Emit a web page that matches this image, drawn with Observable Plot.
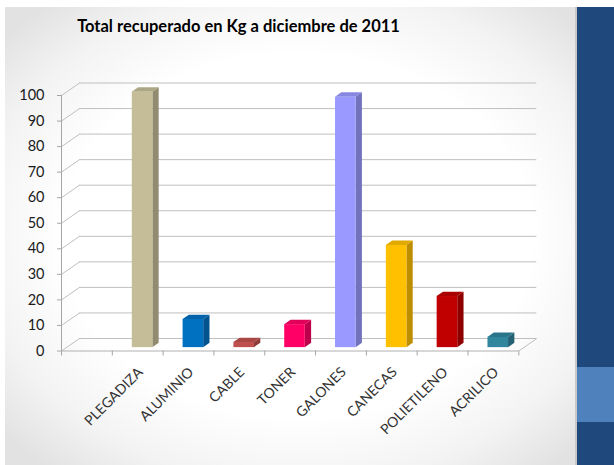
<!DOCTYPE html>
<html>
<head>
<meta charset="utf-8">
<script src="https://cdn.jsdelivr.net/npm/d3@7"></script>
<script src="https://cdn.jsdelivr.net/npm/@observablehq/plot@0.6"></script>
<style>
  body { margin: 0; background: #ffffff; }
  #wrap { position: relative; width: 614px; height: 465px; overflow: hidden; background: #ffffff; }
  #slide { position: absolute; left: 5px; top: 7px; right: 0; bottom: 0;
    background: radial-gradient(ellipse 64% 66% at 48% 50%, #ffffff 60%, #f3f3f3 82%, #e2e2e2 100%); }
  #band { position: absolute; left: 577px; top: 7px; width: 37px; bottom: 0; background: #1F497D; }
  #band2 { position: absolute; left: 577px; top: 367px; width: 37px; height: 55px; background: #4F81BD; }
  #bandEdge { position: absolute; left: 575px; top: 7px; width: 2px; bottom: 0; background: #c8c8c8; }
  #title { position: absolute; left: 0; width: 477px; top: 16px; text-align: center;
    font-family: Lato, "Open Sans", sans-serif; font-weight: bold; font-size: 16.5px; color: #000; }
  #chart { position: absolute; left: 0; top: 0; }
</style>
</head>
<body>
<div id="wrap">
  <div id="slide"></div>
  <div id="bandEdge"></div>
  <div id="band"></div>
  <div id="band2"></div>
  <div id="chart"></div>
  <div id="title">Total recuperado en Kg a diciembre de 2011</div>
</div>
<script>
// ---- data ----
const categories = ["", "PLEGADIZA", "ALUMINIO", "CABLE", "TONER", "GALONES", "CANECAS", "POLIETILENO", "ACRILICO"];
const values = [null, 100, 11, 2, 9, 98, 40, 20, 4];
const colors = [null, "#C4BD97", "#0070C0", "#C0504D", "#FF0066", "#9999FF", "#FFC000", "#C00000", "#31859C"];
const yTicks = [0, 10, 20, 30, 40, 50, 60, 70, 80, 90, 100];

// ---- geometry (styling constants) ----
const W = 614, H = 465;
const mL = 61, mR = 95.7, mT = 95, mB = 114.5;
const nBands = categories.length;
const pxX = (W - mL - mR) / nBands;     // px per x unit
const pxY = (H - mT - mB) / 100;        // px per y unit
const DX = 18 / pxX, DY = 12.5 / pxY;   // floor depth in data units
const f0 = 0.27, f1 = 0.62;             // bar depth position
const bw = 0.405;                        // bar width in band units

const bars = categories.map((c, i) => ({c, i, v: values[i], color: colors[i]})).filter(d => d.v != null);
bars.forEach(d => {
  d.xL = d.i + 0.5 - bw / 2 + f0 * DX;
  d.xR = d.xL + bw;
  d.side = d3.color(d.color).darker(0.85).formatHex();
  d.top = d3.color(d.color).darker(0.35).formatHex();
});
const dd = (f1 - f0) * DX;
const sidePts = bars.flatMap(d => [
  {c: d.c, fill: d.side, x: d.xR, y1: f0 * DY, y2: d.v + f0 * DY},
  {c: d.c, fill: d.side, x: d.xR + dd, y1: f1 * DY, y2: d.v + f1 * DY}
]);
const topPts = bars.flatMap(d => [
  {c: d.c, fill: d.top, y: d.v + f0 * DY, x1: d.xL, x2: d.xR},
  {c: d.c, fill: d.top, y: d.v + f1 * DY, x1: d.xL + dd, x2: d.xR + dd}
]);
const catIdx = d3.range(nBands + 1);
const grid = "#bfbfbf";

const chart = Plot.plot({
  width: W, height: H,
  marginLeft: mL, marginRight: mR, marginTop: mT, marginBottom: mB,
  x: {domain: [0, nBands], axis: null},
  y: {domain: [0, 100], axis: null},
  color: {type: "identity"},
  style: {background: "transparent", fontFamily: "Lato, 'Open Sans', sans-serif", overflow: "visible"},
  marks: [
    // back wall gridlines
    Plot.ruleY(yTicks, {y: d => d + DY, x1: DX, x2: nBands + DX, stroke: grid, strokeWidth: 1}),
    // left wall diagonals
    Plot.link(yTicks, {x1: 0, y1: d => d, x2: DX, y2: d => d + DY, stroke: grid, strokeWidth: 1}),
    // floor front edge and right edge
    Plot.ruleY([0], {x1: 0, x2: nBands, stroke: "#b0b0b0", strokeWidth: 1}),
    Plot.link([0], {x1: nBands, y1: 0, x2: nBands + DX, y2: DY, stroke: grid, strokeWidth: 1}),
    // category ticks
    Plot.ruleX(catIdx, {x: d => d, y1: 0, y2: -5 / pxY, stroke: "#a6a6a6", strokeWidth: 1}),
    // y axis line and ticks
    Plot.ruleX([0], {y1: 0, y2: 100, stroke: "#a6a6a6", strokeWidth: 1}),
    Plot.ruleY(yTicks, {x1: -4 / pxX, x2: 0, stroke: "#a6a6a6", strokeWidth: 1}),
    Plot.text(yTicks, {x: 0, y: d => d, text: d => String(d), dx: -17, textAnchor: "end",
      fontSize: 14.5, fill: "#1a1a1a"}),
    // bars: side, top, front
    Plot.areaY(sidePts, {x: "x", y1: "y1", y2: "y2", z: "c", fill: "fill"}),
    Plot.areaX(topPts, {y: "y", x1: "x1", x2: "x2", z: "c", fill: "fill"}),
    Plot.rectY(bars, {x1: "xL", x2: "xR", y1: f0 * DY, y2: d => d.v + f0 * DY, fill: "color"}),
    // category labels
    Plot.text(bars, {x: d => d.i + 0.5, y: 0, text: "c", rotate: -45, textAnchor: "end",
      lineAnchor: "bottom", dx: 6, dy: 22, fontSize: 14, fill: "#333333"})
  ]
});
document.getElementById("chart").appendChild(chart);
</script>
</body>
</html>
